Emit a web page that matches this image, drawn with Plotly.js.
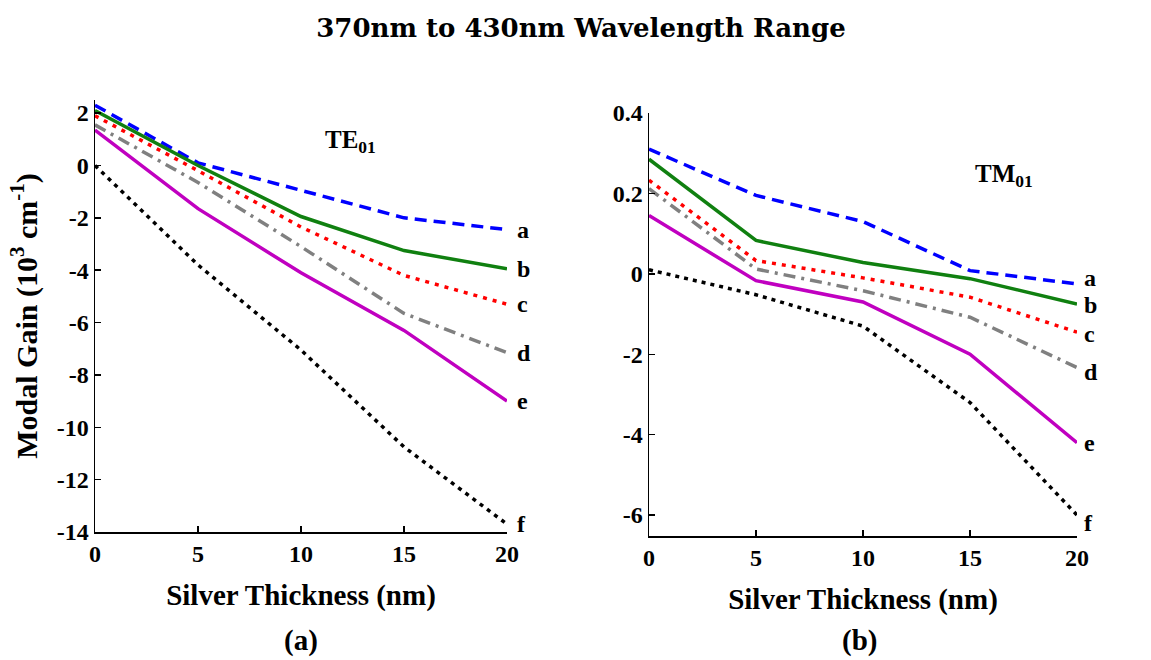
<!DOCTYPE html>
<html>
<head>
<meta charset="utf-8">
<script src="https://cdn.plot.ly/plotly-3.0.1.min.js"></script>
<style>html,body{margin:0;padding:0;background:#fff;}#chart{width:1151px;height:660px;}</style>
</head>
<body>
<div id="chart"></div>
<script>
// Silver thickness (nm)
const thickness = [0, 5, 10, 15, 20];
const seriesNames = ["a", "b", "c", "d", "e", "f"];

// (a) TE01 modal gain (10^3 cm^-1)
const teA = [2.3, 0.1, -0.95, -2.0, -2.45];
const teB = [2.1, 0.0, -1.95, -3.25, -3.95];
const teC = [1.9, -0.2, -2.35, -4.2, -5.3];
const teD = [1.55, -0.65, -3.1, -5.65, -7.15];
const teE = [1.35, -1.65, -4.1, -6.3, -9.0];
const teF = [0.0, -3.8, -7.05, -10.75, -13.7];

// (b) TM01 modal gain (plotted on the original linear 0.2-step axis)
const tmA = [0.31, 0.195, 0.13, 0.008, -0.025];
const tmB = [0.285, 0.083, 0.028, -0.012, -0.075];
const tmC = [0.233, 0.033, -0.01, -0.058, -0.145];
const tmD = [0.212, 0.012, -0.042, -0.108, -0.233];
const tmE = [0.145, -0.017, -0.07, -0.2, -0.42];
const tmF = [0.01, -0.052, -0.13, -0.32, -0.6];

// tick labels
const teTickVals = [2, 0, -2, -4, -6, -8, -10, -12, -14];
const teTickText = ["2", "0", "-2", "-4", "-6", "-8", "-10", "-12", "-14"];
const tmTickVals = [0.4, 0.2, 0, -0.2, -0.4, -0.6];
const tmTickText = ["0.4", "0.2", "0", "-2", "-4", "-6"];
const xTickVals = [0, 5, 10, 15, 20];

const styles = [
  {color: "#0000ff", dash: "12px,7px"},
  {color: "#108010", dash: "solid"},
  {color: "#ff0000", dash: "4px,6px"},
  {color: "#808080", dash: "12px,6px,3px,6px"},
  {color: "#c000c0", dash: "solid"},
  {color: "#000000", dash: "4px,5px"}
];

const teSeries = [teA, teB, teC, teD, teE, teF];
const tmSeries = [tmA, tmB, tmC, tmD, tmE, tmF];

const traces = [];
teSeries.forEach((s, i) => traces.push({
  x: thickness, y: s, xaxis: "x", yaxis: "y", mode: "lines", name: seriesNames[i],
  line: {color: styles[i].color, dash: styles[i].dash, width: 3.5}, showlegend: false
}));
tmSeries.forEach((s, i) => traces.push({
  x: thickness, y: s, xaxis: "x2", yaxis: "y2", mode: "lines", name: seriesNames[i],
  line: {color: styles[i].color, dash: styles[i].dash, width: 3.5}, showlegend: false
}));

const serif = "Liberation Serif, Times New Roman, serif";
const tickFont = {family: serif, size: 24, color: "#000", weight: "bold"};
const titleFont = {family: serif, size: 29, color: "#000", weight: "bold"};
const labelFont = {family: serif, size: 24, color: "#000", weight: "bold"};

const W = 1151, H = 660;
const annotations = [];
const tmLabelShift = [6, -1, -2, -4, 0, -8];
teSeries.forEach((s, i) => annotations.push({
  x: 20, y: s[s.length - 1], xref: "x", yref: "y", text: seriesNames[i],
  showarrow: false, xanchor: "left", xshift: 8, yanchor: "middle", font: labelFont
}));
tmSeries.forEach((s, i) => annotations.push({
  x: 20, y: s[s.length - 1], xref: "x2", yref: "y2", text: seriesNames[i],
  showarrow: false, xanchor: "left", xshift: 5, yshift: tmLabelShift[i], yanchor: "middle", font: labelFont
}));
const paperText = [
  {px: 350, py: 142, text: "TE<sub>01</sub>", size: 25},
  {px: 1004, py: 175, text: "TM<sub>01</sub>", size: 25},
  {px: 301, py: 640, text: "(a)", size: 29},
  {px: 860, py: 640, text: "(b)", size: 29}
];
paperText.forEach(p => annotations.push({
  x: p.px / W, y: 1 - p.py / H, xref: "paper", yref: "paper", text: p.text, showarrow: false,
  xanchor: "center", yanchor: "middle",
  font: {family: serif, size: p.size, color: "#000", weight: "bold"}
}));

const axisCommon = {
  showgrid: false, zeroline: false, showline: true, linecolor: "#000", linewidth: 1.5,
  ticks: "inside", ticklen: 6, tickcolor: "#000", tickwidth: 1.5, tickfont: tickFont
};

const layout = {
  width: W, height: H,
  margin: {l: 0, r: 0, t: 0, b: 0},
  paper_bgcolor: "#fff", plot_bgcolor: "#fff",
  title: {
    text: "370nm to 430nm Wavelength Range", x: 581 / W, xanchor: "center", y: 1 - 28 / H, yanchor: "middle",
    font: {family: "DejaVu Serif, serif", size: 26, color: "#000", weight: "bold"}
  },
  xaxis: Object.assign({}, axisCommon, {
    domain: [95 / W, 507 / W], range: [0, 20], tickvals: xTickVals, anchor: "y",
    title: {text: "Silver Thickness (nm)", font: titleFont, standoff: 18}
  }),
  yaxis: Object.assign({}, axisCommon, {
    domain: [1 - 532 / H, 1 - 100 / H], range: [-14, 2.5], tickvals: teTickVals, ticktext: teTickText, anchor: "x",
    title: {text: "Modal Gain (10<sup>3</sup> cm<sup>-1</sup>)", font: {family: serif, size: 30, color: "#000", weight: "bold"}, standoff: 10}
  }),
  xaxis2: Object.assign({}, axisCommon, {
    domain: [649 / W, 1077 / W], range: [0, 20], tickvals: xTickVals, anchor: "y2",
    title: {text: "Silver Thickness (nm)", font: titleFont, standoff: 18}
  }),
  yaxis2: Object.assign({}, axisCommon, {
    domain: [1 - 536 / H, 1 - 113 / H], range: [-0.652, 0.4], tickvals: tmTickVals, ticktext: tmTickText, anchor: "x2"
  }),
  annotations: annotations
};

Plotly.newPlot("chart", traces, layout, {staticPlot: true, displayModeBar: false});
</script>
</body>
</html>
